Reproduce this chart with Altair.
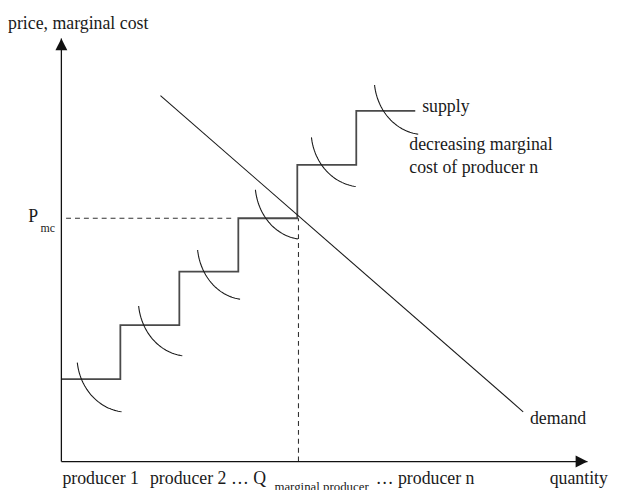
import altair as alt
import numpy as np
import pandas as pd

# ---- data (quantity units = one producer, price units) ----
step_q = [0, 1, 2, 3, 4, 5, 6]
step_price = [1.56, 2.58, 3.59, 4.60, 5.61, 6.63]

demand_q = [1.68, 7.83]
demand_p = [6.92, 0.94]

arc_start_q = [0.27, 1.31, 2.31, 3.29, 4.24, 5.31]
arc_start_p = [1.87, 2.94, 4.00, 5.14, 6.13, 7.12]
arc_end_q = [1.02, 2.05, 3.03, 4.01, 4.99, 6.05]
arc_end_p = [0.94, 2.00, 3.07, 4.21, 5.20, 6.19]

p_mc = 4.60
q_mc = 4.02
pmc_dash_q = [0.08, 2.88]

axis_q_max = 8.92
axis_p_max = 8.0

label_text = ["price, marginal cost", "P", "mc", "supply", "decreasing marginal",
              "cost of producer n", "demand", "producer 1", "producer 2 \u2026 Q",
              "marginal producer", "\u2026 producer n", "quantity"]
label_q = [-0.905, -0.561, -0.352, 6.117, 5.899, 5.899, 7.944, 0.017, 1.502, 3.612, 5.33, 8.279]
label_p = [8.187, 4.523, 4.336, 6.617, 5.888, 5.458, 0.710, -0.430, -0.430, -0.561, -0.430, -0.430]
label_size = [18, 18, 12, 18, 18, 18, 18, 18, 18, 13, 18, 18]

# ---- tables ----
supply = pd.DataFrame({"q": step_q, "p": step_price + [step_price[-1]]})
demand = pd.DataFrame({"q": demand_q, "p": demand_p})

t0, t1 = 0.12, 1.45
ts = np.linspace(t0, t1, 40)
rows = []
for i in range(len(arc_start_q)):
    A = (arc_end_q[i] - arc_start_q[i]) / (np.cos(t0) - np.cos(t1))
    cq = arc_end_q[i] + A * np.cos(t1)
    B = (arc_start_p[i] - arc_end_p[i]) / (np.sin(t1) - np.sin(t0))
    cp = arc_start_p[i] + B * np.sin(t0)
    for k, t in enumerate(ts):
        rows.append({"arc": i, "k": k, "q": cq - A * np.cos(t), "p": cp - B * np.sin(t)})
arcs = pd.DataFrame(rows)

hdash = pd.DataFrame({"q": [pmc_dash_q[0]], "q2": [pmc_dash_q[1]], "p": [p_mc]})
vdash = pd.DataFrame({"q": [q_mc], "p": [0.0], "p2": [p_mc]})
xaxis = pd.DataFrame({"q": [0.0], "q2": [axis_q_max], "p": [0.0]})
yaxis = pd.DataFrame({"q": [0.0], "p": [0.0], "p2": [axis_p_max]})
labels = pd.DataFrame({"text": label_text, "q": label_q, "p": label_p, "size": label_size})

X = alt.Scale(domain=[0, 9], nice=False, zero=False)
Y = alt.Scale(domain=[0, 8], nice=False, zero=False)
xq = alt.X("q:Q", scale=X, axis=None)
yp = alt.Y("p:Q", scale=Y, axis=None)

ink = "#111111"

supply_line = alt.Chart(supply).mark_line(interpolate="step-after", color="#4a4a4a",
                                          strokeWidth=1.8).encode(x=xq, y=yp)
demand_line = alt.Chart(demand).mark_line(color="#1a1a1a", strokeWidth=1.1).encode(x=xq, y=yp)
arc_lines = alt.Chart(arcs).mark_line(color="#1a1a1a", strokeWidth=1.1).encode(
    x=xq, y=yp, detail="arc:N", order="k:Q")
hdash_rule = alt.Chart(hdash).mark_rule(color="#333333", strokeWidth=1.1,
                                        strokeDash=[5, 4]).encode(x=xq, x2="q2", y=yp)
vdash_rule = alt.Chart(vdash).mark_rule(color="#333333", strokeWidth=1.1,
                                        strokeDash=[5, 4]).encode(x=xq, y=yp, y2="p2")
xaxis_rule = alt.Chart(xaxis).mark_rule(color=ink, strokeWidth=1.3).encode(x=xq, x2="q2", y=yp)
yaxis_rule = alt.Chart(yaxis).mark_rule(color=ink, strokeWidth=1.3).encode(x=xq, y=yp, y2="p2")

up_head = alt.Chart(pd.DataFrame({"q": [0.0], "p": [axis_p_max]})).mark_point(
    shape="M0,-1L-1,1L1,1Z", filled=True, color=ink, opacity=1, size=144, yOffset=6
).encode(x=xq, y=yp)
right_head = alt.Chart(pd.DataFrame({"q": [axis_q_max], "p": [0.0]})).mark_point(
    shape="M1,0L-1,-1L-1,1Z", filled=True, color=ink, opacity=1, size=144, xOffset=-6
).encode(x=xq, y=yp)

text_layer = alt.Chart(labels).mark_text(
    align="left", baseline="alphabetic", font="Liberation Serif", color="#1a1a1a"
).encode(x=xq, y=yp, text="text:N", size=alt.Size("size:Q", scale=None, legend=None))

chart = alt.layer(
    hdash_rule, vdash_rule, supply_line, demand_line, arc_lines,
    xaxis_rule, yaxis_rule, up_head, right_head, text_layer
).properties(
    width=537, height=428,
    autosize=alt.AutoSizeParams(type="none"),
    padding={"left": 54, "top": 28, "right": 17, "bottom": 26},
    background="white",
).configure_view(stroke=None)

chart.save("out.html", embed_options={"renderer": "svg", "actions": False})
